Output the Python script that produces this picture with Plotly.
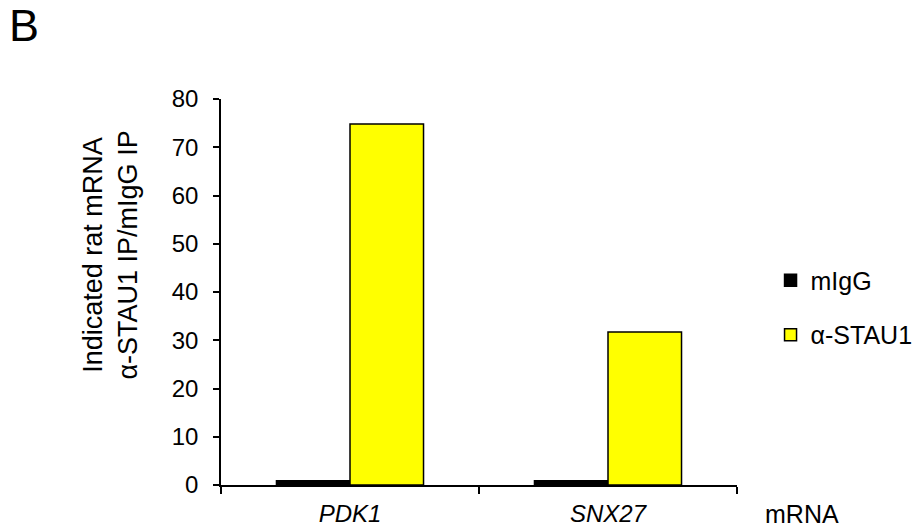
import plotly.graph_objects as go

categories = ["<i>PDK1</i>", "<i>SNX27</i>"]
migg = [0.9, 0.9]
stau1 = [74.8, 31.7]
series_names = ["mIgG", "α-STAU1"]
y_ticks = [0, 10, 20, 30, 40, 50, 60, 70, 80]

FONT = "Liberation Sans, Arial, Helvetica, sans-serif"

fig = go.Figure()
fig.add_trace(go.Bar(x=categories, y=migg, name=series_names[0],
                     marker=dict(color="black", line=dict(color="black", width=1.5)),
                     legendgroup="a"))
fig.add_trace(go.Bar(x=categories, y=stau1, name=series_names[1],
                     marker=dict(color="#FFFF00", line=dict(color="black", width=1.5)),
                     legendgroup="b"))

fig.update_layout(
    width=912, height=528,
    margin=dict(l=221, r=175, t=99, b=43, autoexpand=False),
    paper_bgcolor="white", plot_bgcolor="white",
    barmode="group", bargap=0.43, bargroupgap=0,
    font=dict(family=FONT, size=24, color="black"),
    showlegend=True,
    legend=dict(x=1.065, y=0.46, xanchor="left", yanchor="middle",
                traceorder="grouped", tracegroupgap=19,
                font=dict(size=25), bgcolor="rgba(0,0,0,0)"),
    xaxis=dict(type="category", tickson="boundaries", ticks="outside", ticklen=7,
               tickwidth=1.5, tickcolor="black", showline=True, linecolor="black",
               linewidth=1.5, showgrid=False, tickfont=dict(size=24), ticklabelstandoff=6,
               automargin=False),
    yaxis=dict(range=[0, 80], tickvals=y_ticks, ticks="outside", ticklen=6,
               tickwidth=1.5, tickcolor="black", showline=True, linecolor="black",
               linewidth=1.5, showgrid=False, zeroline=False, tickfont=dict(size=24),
               ticklabelstandoff=10, automargin=False),
    annotations=[
        dict(text="Indicated rat mRNA<br>α-STAU1 IP/mIgG IP", textangle=-90,
             xref="paper", yref="paper", x=-0.214, y=0.596, xanchor="center", yanchor="middle",
             showarrow=False, font=dict(size=27)),
        dict(text="mRNA", xref="paper", yref="paper", x=1.05, y=-0.075,
             xanchor="left", yanchor="middle", showarrow=False, font=dict(size=25)),
        dict(text="B", xref="paper", yref="paper", x=-0.415, y=1.262,
             xanchor="left", yanchor="top", showarrow=False, font=dict(size=45)),
    ],
)

fig.write_html("out.html")
